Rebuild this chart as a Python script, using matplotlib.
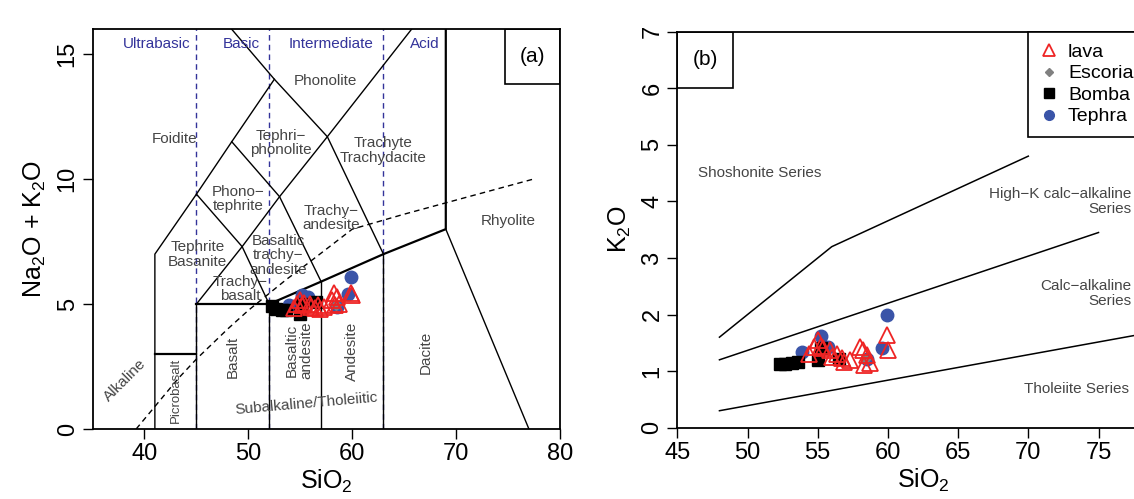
import matplotlib
matplotlib.use("Agg")
import matplotlib.pyplot as plt
from matplotlib.lines import Line2D
from matplotlib.patches import Rectangle

plt.rcParams['font.family'] = ['Liberation Sans', 'DejaVu Sans']
plt.rcParams['mathtext.fontset'] = 'custom'
plt.rcParams['mathtext.rm'] = 'Liberation Sans'

################   sample data
lava_sio2 = [54.4, 54.7, 55.0, 55.2, 55.4, 55.9, 56.0, 56.4, 56.7, 56.9, 57.3, 58.0, 58.2, 58.3, 58.5, 58.7, 59.9, 60.0]
lava_alk  = [4.85, 5.0, 5.15, 4.95, 5.05, 5.0, 4.9, 4.85, 4.95, 4.8, 4.9, 5.15, 5.45, 4.95, 5.3, 5.0, 5.45, 5.35]
lava_k2o  = [1.31, 1.43, 1.55, 1.45, 1.40, 1.37, 1.25, 1.31, 1.23, 1.17, 1.20, 1.43, 1.37, 1.11, 1.28, 1.14, 1.64, 1.37]

escoria_sio2 = [58.4]
escoria_alk  = [4.95]
escoria_k2o  = [1.22]

bomba_sio2 = [52.3, 52.7, 53.2, 53.6, 55.0, 55.2, 56.5]
bomba_alk  = [4.92, 4.8, 4.78, 4.75, 4.62, 5.0, 5.1]
bomba_k2o  = [1.12, 1.13, 1.15, 1.17, 1.20, 1.40, 1.22]

tephra_sio2 = [53.9, 55.2, 55.7, 58.5, 59.6, 59.9]
tephra_alk  = [4.95, 5.35, 5.3, 4.9, 5.4, 6.1]
tephra_k2o  = [1.33, 1.62, 1.43, 1.21, 1.41, 2.0]

################   TAS field boundaries (Le Bas et al.)
tas_thin = [
    [(41, 0), (41, 7), (45, 9.4), (48.4, 11.5), (52.5, 14)],
    [(48.4, 16), (52.5, 14), (57.6, 11.7), (63, 7)],
    [(45, 5), (49.4, 7.3), (53, 9.3), (57.6, 11.7), (65.7, 16)],
    [(45, 9.4), (49.4, 7.3), (52, 5)],
    [(48.4, 11.5), (53, 9.3), (57, 5.9)],
    [(45, 0), (45, 5)],
    [(52, 0), (52, 5)],
    [(57, 0), (57, 5.9)],
    [(63, 0), (63, 7)],
    [(69, 8), (77, 0)],
]
tas_thick = [
    [(52, 5), (57, 5.9), (63, 7), (69, 8), (69, 16)],
    [(41, 3), (45, 3)],
    [(45, 5), (52, 5)],
]
# Irvine & Baragar alkaline / subalkaline divide
ib_x = [39.2, 40, 43.2, 45, 48, 50, 53.7, 55, 60, 65, 77.4]
ib_y = [0, 0.4, 2, 2.8, 4, 4.75, 6, 6.4, 8, 8.6, 10]

silica_div = [45, 52, 63]
silica_names = ['Ultrabasic', 'Basic', 'Intermediate', 'Acid']
silica_name_x = [41.2, 49.3, 58.0, 67.0]

tas_labels = [
    ('Phonolite', 57.4, 13.95, 0, 11), ('Foidite', 42.9, 11.6, 0, 11),
    ('Tephri\u2212\nphonolite', 53.1, 11.45, 0, 11), ('Trachyte\nTrachydacite', 63.0, 11.15, 0, 11),
    ('Phono\u2212\ntephrite', 49.0, 9.2, 0, 11), ('Trachy\u2212\nandesite', 58.0, 8.45, 0, 11),
    ('Rhyolite', 75.0, 8.33, 0, 11), ('Tephrite\nBasanite', 45.1, 6.98, 0, 11),
    ('Basaltic\ntrachy\u2212\nandesite', 52.9, 6.95, 0, 11), ('Trachy\u2212\nbasalt', 49.2, 5.6, 0, 11),
    ('Alkaline', 38.1, 1.95, 45, 11), ('Picrobasalt', 43.0, 1.55, 90, 9.5),
    ('Basalt', 48.5, 2.9, 90, 11), ('Basaltic\nandesite', 54.9, 3.15, 90, 11),
    ('Andesite', 60.0, 3.1, 90, 11), ('Dacite', 67.1, 3.05, 90, 11),
    ('Subalkaline/Tholeiitic', 55.6, 1.0, 5, 11),
]

################   Peccerillo & Taylor K2O series lines
pt_lines = [
    ([48, 56, 70], [1.6, 3.2, 4.8]),
    ([48, 75], [1.2, 3.45]),
    ([48, 80], [0.3, 1.74]),
]

lava_col = '#ee2424'
tephra_col = '#3a54a8'
esc_col = '#808080'
txt_col = '#454545'
div_col = '#33339a'

fig = plt.figure(figsize=(11.34, 4.99), dpi=100)
ax1 = fig.add_axes([0.0816, 0.1403, 0.4123, 0.801])
ax2 = fig.add_axes([0.5973, 0.1429, 0.4333, 0.7936])

def draw_points(ax, y_lava, y_esc, y_bomba, y_tephra):
    ax.plot(lava_sio2, y_lava, '^', ms=11.5, mfc='none', mec=lava_col, mew=1.3, ls='none', zorder=4)
    ax.plot(escoria_sio2, y_esc, 'D', ms=5, color=esc_col, ls='none', zorder=3)
    ax.plot(bomba_sio2, y_bomba, 's', ms=8.5, color='black', ls='none', zorder=3)
    ax.plot(tephra_sio2, y_tephra, 'o', ms=9, color=tephra_col, ls='none', zorder=2)

def style_axes(ax):
    ax.tick_params(direction='out', length=7, width=1, labelsize=17, pad=3)
    ax.tick_params(axis='y', labelrotation=90)
    for l in ax.get_yticklabels():
        l.set_va('center')
    for s in ax.spines.values():
        s.set_linewidth(1.3)

################   (a) TAS
for xd in silica_div:
    ax1.plot([xd, xd], [0, 16], ls=(0, (4, 3)), color=div_col, lw=1, zorder=1)
for nm, xx in zip(silica_names, silica_name_x):
    ax1.text(xx, 15.43, nm, color=div_col, fontsize=11, ha='center', va='center')
for seg in tas_thin:
    ax1.plot([p[0] for p in seg], [p[1] for p in seg], color='black', lw=1.0, zorder=1)
for seg in tas_thick:
    ax1.plot([p[0] for p in seg], [p[1] for p in seg], color='black', lw=1.6, zorder=1)
ax1.plot(ib_x, ib_y, color='black', lw=1, ls=(0, (4, 3)), zorder=1)
for t, xx, yy, rot, fs in tas_labels:
    ax1.text(xx, yy, t, color=txt_col, fontsize=fs, ha='center', va='center',
             rotation=rot, linespacing=1.05)
ax1.add_patch(Rectangle((74.7, 13.8), 5.3, 2.2, fill=False, lw=1.2, ec='black'))
ax1.text(77.35, 14.9, '(a)', fontsize=15, ha='center', va='center')
draw_points(ax1, lava_alk, escoria_alk, bomba_alk, tephra_alk)
ax1.set_xlim(35, 80)
ax1.set_ylim(0, 16)
ax1.set_xticks([40, 50, 60, 70, 80])
ax1.set_yticks([0, 5, 10, 15])
ax1.set_xlabel('SiO$_\\mathregular{2}$', fontsize=18, labelpad=2)
ax1.set_ylabel('Na$_\\mathregular{2}$O + K$_\\mathregular{2}$O', fontsize=18, labelpad=6)
style_axes(ax1)

################   (b) K2O vs SiO2
for xs, ys in pt_lines:
    ax2.plot(xs, ys, color='black', lw=1.1)
ax2.text(50.9, 4.5, 'Shoshonite Series', color=txt_col, fontsize=11, ha='center', va='center')
ax2.text(77.35, 4.0, 'High\u2212K calc\u2212alkaline\nSeries', color=txt_col, fontsize=11,
         ha='right', va='center', multialignment='right', linespacing=1.1)
ax2.text(77.35, 2.37, 'Calc\u2212alkaline\nSeries', color=txt_col, fontsize=11,
         ha='right', va='center', multialignment='right', linespacing=1.1)
ax2.text(77.2, 0.68, 'Tholeiite Series', color=txt_col, fontsize=11, ha='right', va='center')
ax2.add_patch(Rectangle((45, 6), 4, 1, fill=False, lw=1.2, ec='black'))
ax2.text(47.0, 6.5, '(b)', fontsize=15, ha='center', va='center')
draw_points(ax2, lava_k2o, escoria_k2o, bomba_k2o, tephra_k2o)
ax2.set_xlim(45, 80)
ax2.set_ylim(0, 7)
ax2.set_xticks([45, 50, 55, 60, 65, 70, 75])
ax2.set_yticks(range(8))
ax2.set_xlabel('SiO$_\\mathregular{2}$', fontsize=18, labelpad=2)
ax2.set_ylabel('K$_\\mathregular{2}$O', fontsize=18, labelpad=6)
style_axes(ax2)

handles = [
    Line2D([], [], marker='^', ls='none', ms=9, mfc='none', mec=lava_col, mew=1.3),
    Line2D([], [], marker='D', ls='none', ms=4.5, color=esc_col),
    Line2D([], [], marker='s', ls='none', ms=7, color='black'),
    Line2D([], [], marker='o', ls='none', ms=7, color=tephra_col),
]
leg = ax2.legend(handles, ['lava', 'Escoria', 'Bomba', 'Tephra'], loc='upper left',
                 bbox_to_anchor=(0.7137, 1.0), borderaxespad=0, fontsize=14,
                 frameon=True, fancybox=False, framealpha=1, edgecolor='black',
                 handlelength=1.0, handletextpad=0.45, borderpad=0.6, labelspacing=0.2)
leg.get_frame().set_linewidth(1.2)

fig.savefig('out.png', dpi=100)
